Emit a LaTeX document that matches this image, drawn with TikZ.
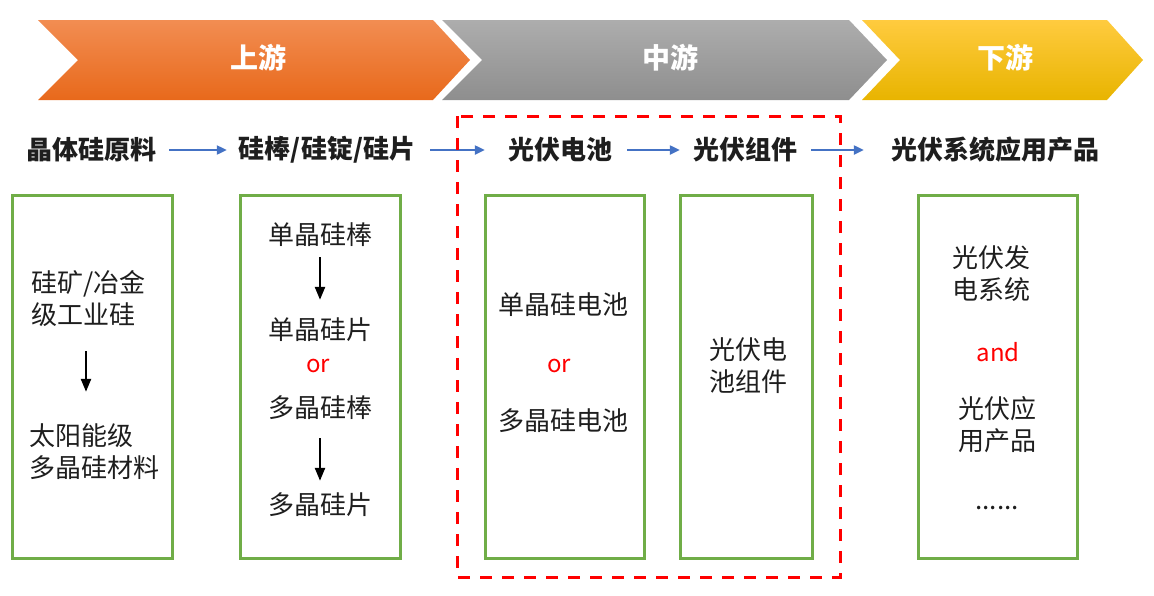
\documentclass[tikz,border=0pt]{standalone}
\usepackage{fontspec}
\setmainfont{Noto Sans CJK SC}
\usepackage{xcolor}
\usetikzlibrary{arrows.meta}

\definecolor{orgtop}{HTML}{F28D52}
\definecolor{orgbot}{HTML}{E8691B}
\definecolor{grytop}{HTML}{ADADAD}
\definecolor{grybot}{HTML}{8E8E8E}
\definecolor{ylwtop}{HTML}{FFCB3F}
\definecolor{ylwbot}{HTML}{E8B400}
\definecolor{boxgreen}{HTML}{70AD47}
\definecolor{flowblue}{HTML}{4472C4}
\definecolor{txtgray}{HTML}{1E1E1E}

\tikzset{
	head/.style={text=white, font=\bfseries\fontsize{28}{30}\selectfont},
	stage/.style={text=txtgray, inner sep=0pt, font=\bfseries\fontsize{26}{30}\selectfont},
	item/.style={text=txtgray, inner sep=0pt, align=left, font=\fontsize{26}{32}\selectfont},
	word/.style={text=red, inner sep=0pt, font=\fontsize{24}{30}\selectfont},
	gbox/.style={draw=boxgreen, line width=3pt, inner sep=0pt},
	flow/.style={draw=flowblue, line width=2.2pt, -{Triangle[length=10pt,width=9pt]}},
	down/.style={draw=black, line width=2.4pt, -{Triangle[length=13pt,width=10pt]}}
}

\begin{document}
\begin{tikzpicture}[x=1pt,y=-1pt]

			\useasboundingbox (0,0) rectangle (1154,595);
			\def \rowy {150};
			\def \boxy {377};

			% chevrons
			\shade[top color=orgtop, bottom color=orgbot] (38,20) -- (433,20) -- (470,60) -- (433,100) -- (38,100) -- (78,60) -- cycle;
			\shade[top color=grytop, bottom color=grybot] (442,20) -- (849,20) -- (887,60) -- (849,100) -- (442,100) -- (482,60) -- cycle;
			\shade[top color=ylwtop, bottom color=ylwbot] (862,20) -- (1107,20) -- (1143,60) -- (1107,100) -- (862,100) -- (900,60) -- cycle;
			\node[head] (up) at (258,58) {上游};
			\node[head] (mid) at (670,58) {中游};
			\node[head] (down) at (1005,58) {下游};

			% stages
			\node[stage] (raw) at (91,\rowy) {晶体硅原料};
			\node[stage] (ingot) at (327,\rowy) {硅棒/硅锭/硅片};
			\node[stage] (cell) at (560,\rowy) {光伏电池};
			\node[stage] (module) at (745,\rowy) {光伏组件};
			\node[stage] (app) at (995,\rowy) {光伏系统应用产品};
			\foreach \a/\b/\s/\e in {raw/ingot/13/12, ingot/cell/15/23, cell/module/15/13, module/app/14/27} {
			    \draw[flow, shorten <=\s pt, shorten >=\e pt] (\a) -- (\b);
			}

			% green boxes
			\foreach \n/\l/\r in {b1/12/172, b2/240/400, b3/485/644, b4/680/812, b5/918/1077} {
			    \node[gbox, minimum width={(\r-\l)*1pt}, minimum height=363pt] (\n) at ({(\l+\r)/2},\boxy) {};
			}

			% middle part
			\draw[red, line width=3pt, dash pattern=on 12pt off 10pt] (457,116) rectangle (840,577);

			% box 1
			\node[item, anchor=west] (ore) at (31,299) {硅矿/冶金\\级工业硅};
			\node[item, anchor=west] (poly) at (29,452) {太阳能级\\多晶硅材料};
			\draw[down, shorten >=32pt] (ore.south -| 86,0) ++(0,24) coordinate (o1) -- (o1 |- poly.north);

			% box 2
			\node[item] (mono1) at (320,235) {单晶硅棒};
			\node[item] (mono2) at (320,330) {单晶硅片};
			\node[word] (or1) at (318,366) {or};
			\node[item] (multi1) at (320,408) {多晶硅棒};
			\node[item] (multi2) at (320,505) {多晶硅片};
			\draw[down, shorten <=10pt, shorten >=18pt] (mono1.south) -- (mono2.north);
			\draw[down, shorten <=18pt, shorten >=12pt] (multi1.south) -- (multi2.north);

			% box 3
			\node[item] (monocell) at (563,305) {单晶硅电池};
			\node[word] (or2) at (559,366) {or};
			\node[item] (multicell) at (563,421) {多晶硅电池};

			% box 4
			\node[item] (pvmod) at (748,366) {光伏电\\池组件};

			% box 5
			\node[item] (pvsys) at (991,274) {光伏发\\电系统};
			\node[word] (and) at (998,352) {and};
			\node[item] (pvprod) at (997,425) {光伏应\\用产品};
			\node[item] (more) at (997,508) {......};

			\end{tikzpicture}
\end{document}
